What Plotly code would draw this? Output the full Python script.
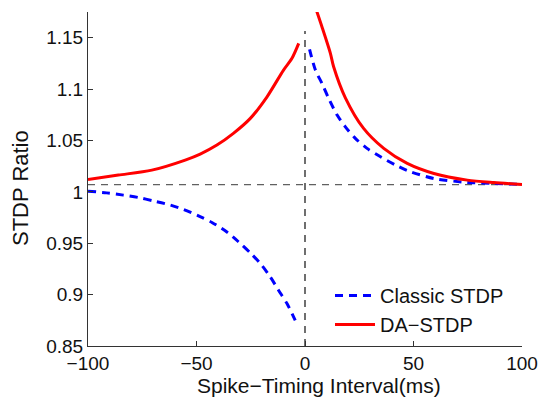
import plotly.graph_objects as go

# Classic STDP (blue dashed), two branches
classic_left_x = [-100, -91.4, -83.7, -76.8, -69.9, -63, -56, -49.1, -42.9, -36, -30.6, -25.2, -20.6, -16, -12.2, -8.3, -4.5]
classic_left_y = [1.0007, 0.999, 0.9968, 0.9945, 0.9912, 0.9877, 0.9829, 0.9766, 0.9702, 0.961, 0.9513, 0.9406, 0.9303, 0.9172, 0.9043, 0.8913, 0.875]
classic_right_x = [2.1, 4.8, 7.8, 10.9, 14.8, 18.6, 23.2, 28.6, 34.8, 42.5, 47.8, 59.4, 74.8, 87, 100]
classic_right_y = [1.1387, 1.1185, 1.1056, 1.091, 1.0747, 1.0633, 1.052, 1.0423, 1.0341, 1.0253, 1.0202, 1.013, 1.0092, 1.0082, 1.0073]

# DA-STDP (red solid), two branches
da_left_x = [-100, -86, -70.6, -55.2, -48.3, -40.6, -33, -25.2, -17.5, -9.9, -6, -2.9]
da_left_y = [1.0121, 1.0163, 1.0211, 1.0309, 1.0367, 1.0455, 1.0569, 1.0715, 1.0925, 1.1185, 1.13, 1.1445]
da_right_x = [4.4, 7.8, 11.7, 13.2, 18.6, 27, 36.3, 47.1, 59.4, 74.8, 87, 100]
da_right_y = [1.182, 1.1607, 1.1348, 1.1217, 1.0915, 1.0617, 1.0423, 1.0277, 1.0179, 1.0114, 1.009, 1.0072]

baseline_y = 1.007
vline_top = 1.1565

x_ticks = [-100, -50, 0, 50, 100]
y_ticks = [0.85, 0.9, 0.95, 1.0, 1.05, 1.1, 1.15]
y_tick_labels = ["0.85", "0.9", "0.95", "1", "1.05", "1.1", "1.15"]

FONT = "Liberation Sans, Arial, Helvetica, sans-serif"
L, R, T, B = 88, 18, 12, 51
PW, PH = 540 - L - R, 397 - T - B

fig = go.Figure()

# reference lines
fig.add_trace(go.Scatter(x=[-100, 100], y=[baseline_y, baseline_y], mode="lines",
                         line=dict(color="#606060", width=1.3, dash="7px,6px"),
                         showlegend=False, hoverinfo="skip"))
fig.add_trace(go.Scatter(x=[0, 0], y=[0.85, vline_top], mode="lines",
                         line=dict(color="#222222", width=1.3, dash="7px,6px"),
                         showlegend=False, hoverinfo="skip"))

fig.add_trace(go.Scatter(x=classic_left_x + [None] + classic_right_x,
                         y=classic_left_y + [None] + classic_right_y,
                         mode="lines", name="Classic STDP", connectgaps=False,
                         line=dict(color="#0000ff", width=3, dash="8px,6px", shape="spline", smoothing=0.8)))
fig.add_trace(go.Scatter(x=da_left_x + [None] + da_right_x,
                         y=da_left_y + [None] + da_right_y,
                         mode="lines", name="DA\u2212STDP", connectgaps=False,
                         line=dict(color="#ff0000", width=3, shape="spline", smoothing=0.8)))

axis_common = dict(showgrid=False, zeroline=False, showline=True, linecolor="#333333",
                   linewidth=1, ticks="inside", ticklen=5, tickcolor="#333333",
                   automargin=False,
                   tickfont=dict(family=FONT, size=19, color="#111111"))

fig.update_layout(
    width=540, height=397,
    margin=dict(l=L, r=R, t=T, b=B, autoexpand=False),
    paper_bgcolor="white", plot_bgcolor="white",
    xaxis=dict(range=[-100, 100], tickvals=x_ticks, ticklabelstandoff=0, **axis_common),
    yaxis=dict(range=[0.85, 1.175], tickvals=y_ticks, ticktext=y_tick_labels, **axis_common),
    legend=dict(x=(330 - L) / PW, y=(397 - B - 276) / PH, xanchor="left", yanchor="top",
                bgcolor="rgba(0,0,0,0)",
                font=dict(family=FONT, size=20, color="#111111"), itemwidth=40),
    annotations=[
        dict(text="Spike\u2212Timing Interval(ms)", xref="paper", yref="paper",
             x=(319 - L) / PW, y=(397 - B - 385) / PH, xanchor="center", yanchor="middle",
             showarrow=False, font=dict(family=FONT, size=21, color="#111111")),
        dict(text="STDP Ratio", xref="paper", yref="paper", textangle=-90,
             x=(21 - L) / PW, y=(397 - B - 188) / PH, xanchor="center", yanchor="middle",
             showarrow=False, font=dict(family=FONT, size=22, color="#111111")),
    ],
)

fig.write_html("out.html")
